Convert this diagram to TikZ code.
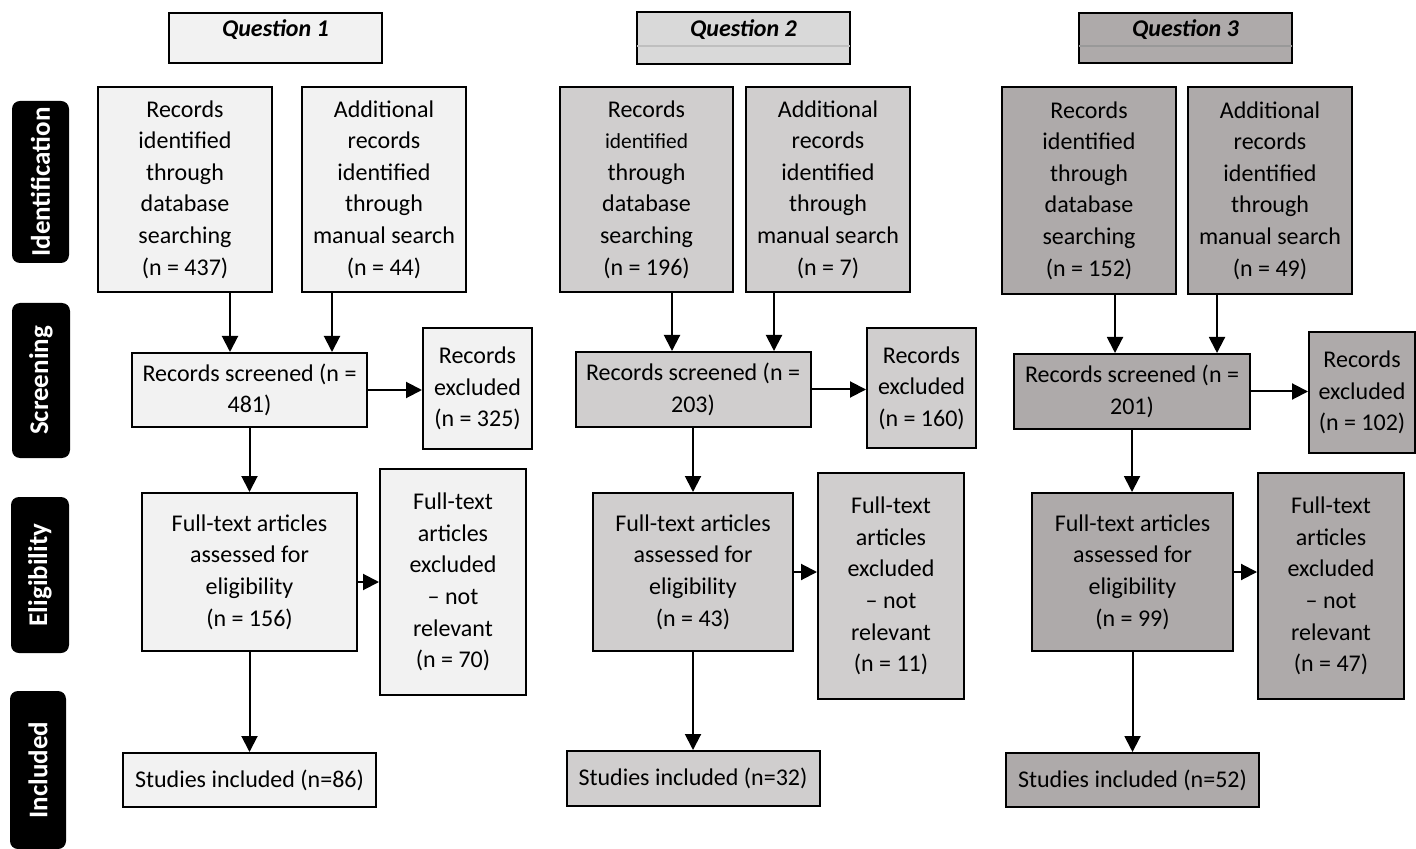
\documentclass[tikz,border=0pt]{standalone}
\usepackage{fontspec}
\setmainfont{Carlito}
\usetikzlibrary{arrows.meta}
\definecolor{cA}{HTML}{F2F2F2}
\definecolor{cB}{HTML}{D0CECE}
\definecolor{cBh}{HTML}{D9D9D9}
\definecolor{cC}{HTML}{AEAAAA}
\tikzset{
  box/.style={draw, line width=1pt, inner sep=0pt, align=center,
    font=\fontsize{12}{15.8}\selectfont},
  hdr/.style={draw, line width=1pt, inner xsep=0pt, inner ysep=0pt,
    minimum width=106.5pt, text height=12pt, text depth=13pt,
    font=\fontsize{12}{15}\selectfont\bfseries\itshape},
  side/.style={fill=black, rounded corners=4pt, rotate=90, inner sep=0pt,
    text=white, font=\fontsize{13.5}{15}\selectfont\bfseries},
  arr/.style={line width=1pt, -{Triangle[length=8pt,width=8pt]}},
  divl/.style={line width=0.6pt}
}
\begin{document}
\begin{tikzpicture}[x=0.5pt,y=-0.5pt]
\useasboundingbox (0,0) rectangle (1416,849);

% side labels
\node[side, minimum width=81pt, minimum height=28.5pt] (sid) at (40.5,182) {Identification};
\node[side, minimum width=77.5pt, minimum height=29pt] (sscr) at (41,380.5) {Screening};
\node[side, minimum width=78pt, minimum height=29pt] (selg) at (40,575) {Eligibility};
\node[side, minimum width=79pt, minimum height=28pt] (sinc) at (38,770) {Included};

% ---------- Question 1 ----------
\node[hdr, fill=cA] (h1) at (275.5,38) {Question 1};
\node[box, fill=cA, minimum width=87pt, minimum height=102.5pt] (db1) at (185,189.5)
  {Records\\identified\\through\\database\\searching\\(n = 437)};
\node[box, fill=cA, minimum width=82pt, minimum height=102.5pt] (ad1) at (384,189.5)
  {Additional\\records\\identified\\through\\manual search\\(n = 44)};
\node[box, fill=cA, minimum width=117.5pt, minimum height=37pt] (scr1) at (249.5,390)
  {Records screened (n =\\481)};
\node[box, fill=cA, minimum width=54.5pt, minimum height=60.5pt] (ex1) at (477.5,388.5)
  {Records\\excluded\\(n = 325)};
\node[box, fill=cA, minimum width=107.5pt, minimum height=79pt] (ft1) at (249.5,572)
  {Full-text articles\\assessed for\\eligibility\\(n = 156)};
\node[box, fill=cA, minimum width=73pt, minimum height=113pt] (fte1) at (453,582)
  {Full-text\\articles\\excluded\\– not\\relevant\\(n = 70)};
\node[box, fill=cA, minimum width=126.5pt, minimum height=27pt] (st1) at (249.5,780)
  {Studies included (n=86)};

\draw[arr] (db1.south -| 230,0) -- (scr1.north -| 230,0);
\draw[arr] (ad1.south -| 332,0) -- (scr1.north -| 332,0);
\draw[arr] (scr1.east) -- (scr1.east -| ex1.west);
\draw[arr] (scr1.south) -- (scr1.south |- ft1.north);
\draw[arr] (ft1.east |- fte1.west) -- (fte1.west);
\draw[arr] (ft1.south) -- (ft1.south |- st1.north);

% ---------- Question 2 ----------
\node[hdr, fill=cBh, minimum height=26pt] (h2) at (743.5,38) {Question 2};
\draw[divl, color=black!25] ([xshift=0.5pt]h2.west |- 0,46) -- ([xshift=-0.5pt]h2.east |- 0,46);
\node[box, fill=cB, minimum width=86.5pt, minimum height=102.5pt] (db2) at (646.5,189.5)
  {Records\\{\fontsize{10.7}{15.8}\selectfont identified}\\through\\database\\searching\\(n = 196)};
\node[box, fill=cB, minimum width=82pt, minimum height=102.5pt] (ad2) at (828,189.5)
  {Additional\\records\\identified\\through\\manual search\\(n = 7)};
\node[box, fill=cB, minimum width=117.5pt, minimum height=37.5pt] (scr2) at (693,389.5)
  {Records screened (n =\\203)};
\node[box, fill=cB, minimum width=54.5pt, minimum height=60pt] (ex2) at (921.5,388)
  {Records\\excluded\\(n = 160)};
\node[box, fill=cB, minimum width=100pt, minimum height=79pt] (ft2) at (693,572)
  {Full-text articles\\assessed for\\eligibility\\(n = 43)};
\node[box, fill=cB, minimum width=73pt, minimum height=113pt] (fte2) at (891,586)
  {Full-text\\articles\\excluded\\– not\\relevant\\(n = 11)};
\node[box, fill=cB, minimum width=126.5pt, minimum height=27.5pt] (st2) at (693,778.5)
  {Studies included (n=32)};

\draw[arr] (db2.south -| 672,0) -- (scr2.north -| 672,0);
\draw[arr] (ad2.south -| 774,0) -- (scr2.north -| 774,0);
\draw[arr] (scr2.east) -- (scr2.east -| ex2.west);
\draw[arr] (scr2.south) -- (scr2.south |- ft2.north);
\draw[arr] (ft2.east) -- (ft2.east -| fte2.west);
\draw[arr] (ft2.south) -- (ft2.south |- st2.north);

% ---------- Question 3 ----------
\node[hdr, fill=cC] (h3) at (1185.5,38) {Question 3};
\draw[divl, color=black!40] ([xshift=0.5pt]h3.west |- 0,46) -- ([xshift=-0.5pt]h3.east |- 0,46);
\node[box, fill=cC, minimum width=87pt, minimum height=103.5pt] (db3) at (1089,190.5)
  {Records\\identified\\through\\database\\searching\\(n = 152)};
\node[box, fill=cC, minimum width=82pt, minimum height=103.5pt] (ad3) at (1270,190.5)
  {Additional\\records\\identified\\through\\manual search\\(n = 49)};
\node[box, fill=cC, minimum width=118pt, minimum height=37.5pt] (scr3) at (1132,391.5)
  {Records screened (n =\\201)};
\node[box, fill=cC, minimum width=53pt, minimum height=60.5pt] (ex3) at (1362,392.5)
  {Records\\excluded\\(n = 102)};
\node[box, fill=cC, minimum width=100.5pt, minimum height=79pt] (ft3) at (1132.5,572)
  {Full-text articles\\assessed for\\eligibility\\(n = 99)};
\node[box, fill=cC, minimum width=73pt, minimum height=113pt] (fte3) at (1331,586)
  {Full-text\\articles\\excluded\\– not\\relevant\\(n = 47)};
\node[box, fill=cC, minimum width=126.5pt, minimum height=27pt] (st3) at (1132.5,780)
  {Studies included (n=52)};

\draw[arr] (db3.south -| 1115,0) -- (scr3.north -| 1115,0);
\draw[arr] (ad3.south -| 1217,0) -- (scr3.north -| 1217,0);
\draw[arr] (scr3.east) -- (scr3.east -| ex3.west);
\draw[arr] (scr3.south) -- (scr3.south |- ft3.north);
\draw[arr] (ft3.east) -- (ft3.east -| fte3.west);
\draw[arr] (ft3.south) -- (ft3.south |- st3.north);
\end{tikzpicture}
\end{document}
